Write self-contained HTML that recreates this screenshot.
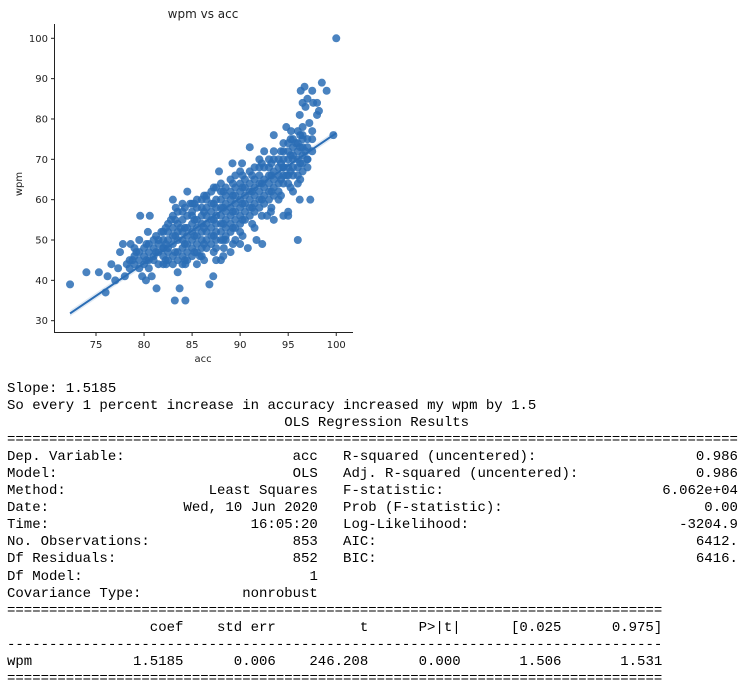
<!DOCTYPE html>
<html><head><meta charset="utf-8"><style>
body{margin:0;background:#fff;width:751px;height:683px;overflow:hidden;position:relative;font-family:"Liberation Mono",monospace;}
#plot{position:absolute;left:0;top:0}
#out{position:absolute;left:7px;top:381px;font-size:14px;line-height:17.05px;color:#000;white-space:pre}
.r{display:flex;height:17.05px}
.c37{width:37ch;display:flex;justify-content:space-between}
.g{width:3ch}
.c48{width:47ch;display:flex;justify-content:space-between}
.cell{text-align:right;display:inline-block}
</style></head><body>
<svg id="plot" width="360" height="372" xmlns="http://www.w3.org/2000/svg" font-family="DejaVu Sans, Liberation Sans, sans-serif">
<text x="203" y="18" font-size="12" text-anchor="middle" fill="#222">wpm vs acc</text>
<g id="marks"></g>
<g id="axes"></g>
<text x="203" y="362" font-size="10" text-anchor="middle" fill="#222">acc</text>
<text transform="translate(22,184) rotate(-90)" font-size="10" text-anchor="middle" fill="#222">wpm</text>
</svg>
<div id="out"><div>Slope: 1.5185</div><div>So every 1 percent increase in accuracy increased my wpm by 1.5</div><div>                                 OLS Regression Results</div><div>=======================================================================================</div><div class="r"><span class="c37"><span>Dep. Variable:</span><span>acc</span></span><span class="g"></span><span class="c48"><span>R-squared (uncentered):</span><span>0.986</span></span></div><div class="r"><span class="c37"><span>Model:</span><span>OLS</span></span><span class="g"></span><span class="c48"><span>Adj. R-squared (uncentered):</span><span>0.986</span></span></div><div class="r"><span class="c37"><span>Method:</span><span>Least Squares</span></span><span class="g"></span><span class="c48"><span>F-statistic:</span><span>6.062e+04</span></span></div><div class="r"><span class="c37"><span>Date:</span><span>Wed, 10 Jun 2020</span></span><span class="g"></span><span class="c48"><span>Prob (F-statistic):</span><span>0.00</span></span></div><div class="r"><span class="c37"><span>Time:</span><span>16:05:20</span></span><span class="g"></span><span class="c48"><span>Log-Likelihood:</span><span>-3204.9</span></span></div><div class="r"><span class="c37"><span>No. Observations:</span><span>853</span></span><span class="g"></span><span class="c48"><span>AIC:</span><span>6412.</span></span></div><div class="r"><span class="c37"><span>Df Residuals:</span><span>852</span></span><span class="g"></span><span class="c48"><span>BIC:</span><span>6416.</span></span></div><div class="r"><span class="c37"><span>Df Model:</span><span>1</span></span></div><div class="r"><span class="c37"><span>Covariance Type:</span><span>nonrobust</span></span></div><div>==============================================================================</div><div class="r"><span class="cell" style="width:10ch"></span><span class="cell" style="width:11ch">coef</span><span class="cell" style="width:11ch">std err</span><span class="cell" style="width:11ch">t</span><span class="cell" style="width:11ch">P&gt;|t|</span><span class="cell" style="width:12ch">[0.025</span><span class="cell" style="width:12ch">0.975]</span></div><div>------------------------------------------------------------------------------</div><div class="r"><span class="cell" style="width:10ch;text-align:left">wpm</span><span class="cell" style="width:11ch">1.5185</span><span class="cell" style="width:11ch">0.006</span><span class="cell" style="width:11ch">246.208</span><span class="cell" style="width:11ch">0.000</span><span class="cell" style="width:12ch">1.506</span><span class="cell" style="width:12ch">1.531</span></div><div>==============================================================================</div></div>
<script>
const xTicks=[75,80,85,90,95,100];
const yTicks=[30,40,50,60,70,80,90,100];
const outlierAcc=[72.3,74,75.3,76,76.2,76.6,77,77.3,77.5,77.8,78,78.2,78.6,78.8,79.2,79.5,79.6,79.8,80.2,80.4,80.6,80.5,80.8,81,81.3,81.5,81.8,82,82.3,82.5,82.8,83,83.2,83.3,83.5,83.7,83.8,84,84.3,84.5,84.3,84.8,85,85.5,85.8,86.5,86.8,87.2,87.5,87.8,88,88.3,88.5,89,89.2,89.5,90,90.2,90.8,91,91.5,91.7,92,92.3,92.5,92.8,93.2,93.5,93.5,94,94.5,94.8,95,95,95.3,95.5,96,96,96.2,96.3,96.5,96.7,96.8,97,97.2,97.3,97.5,97.6,98,98.2,98.5,99,99.7,100,96.2,96.5,97.5,98,96.8,97,95.8,95.5,94.8,94.5];
const outlierWpm=[39,42,42,37,41,44,40,43,47,49,41,44,49,45,47,50,56,41,40,52,56,43,41,45,38,50,52,48,44,47,55,60,35,58,42,38,53,59,35,62,44,59,56,44,46,60,39,41,45,67,45,48,50,47,69,50,49,69,48,73,53,50,70,49,72,56,57,76,55,60,56,78,57,56,77,62,50,64,60,87,84,88,83,85,79,60,87,84,81,82,89,87,76,100,81,75,77,84,72,70,74,70,66,68];
const denseAcc=[78.5,79,79.5,80,80.5,81,81.5,82,82.5,83,83.5,84,84.5,85,85.5,86,86.5,87,87.5,88,88.5,89,89.5,90,90.5,91,91.5,92,92.5,93,93.5,94,94.5,95,95.5,96,96.5,97,97.5,80.25,81.25,82.25,83.25,84.25,85.25,86.25,87.25,88.25,89.25,90.25,91.25,92.25,93.25,94.25,95.25,96.25];
const denseWpm=[[43,45],[44,46,48],[43,45,47],[44,46,48],[45,47,49],[46,48,50],[44,47,49],[44,46,48,50,52],[45,48,50,52,54],[44,46,49,51,53,56],[45,47,50,52,54,57],[44,46,48,50,52,55,57],[45,47,49,51,53,56],[46,48,50,52,54,57,59],[47,49,51,53,55,58,60],[46,48,50,52,54,56,58,60],[48,50,52,54,56,58,61],[49,51,53,55,57,59,62],[48,50,52,54,56,58,60,63],[50,52,54,56,58,60,62,64],[51,53,55,57,59,61,63],[52,54,56,58,60,62,65],[53,55,57,59,61,63,66],[52,54,56,58,60,62,64,67],[55,57,59,61,63,65],[56,58,60,62,64,67],[57,59,61,63,65,68],[58,60,62,64,66,68],[59,61,63,65,68],[60,62,64,66,68,70],[61,63,65,67,70,72],[62,64,66,68,70],[64,66,68,70,72,74],[64,66,68,70,72,74],[66,68,71,73,75],[66,68,70,72,74,77],[67,69,71,73,76,78],[68,70,73,75],[72,75],[45,49],[47,51],[45,49,53],[47,51,55],[45,49,53,58],[47,51,55,59],[45,49,53,57,61],[47,51,55,59,63],[46,50,54,58,62],[49,53,57,61,64],[51,55,59,63,66],[54,58,62,66],[56,60,64,69],[58,62,66,69],[61,65,69,72],[63,67,71,75],[65,69,73,76]];
const fitX=[72.3,100];
const fitY=[31.8,76.5];

const X=v=>96+(v-75)*9.61;
const Y=v=>38.3+(100-v)*4.034;
const NS="http://www.w3.org/2000/svg";
const marks=document.getElementById('marks');
const axes=document.getElementById('axes');
function mk(tag,attrs,parent){const e=document.createElementNS(NS,tag);for(const k in attrs)e.setAttribute(k,attrs[k]);parent.appendChild(e);return e;}
function dot(a,w){
  const c=mk('circle',{cx:X(a),cy:Y(w),r:4,fill:'#2a6db5','fill-opacity':0.85},marks);
  
  
}
denseAcc.forEach((a,i)=>denseWpm[i].forEach(w=>dot(a,w)));
outlierAcc.forEach((a,i)=>dot(a,outlierWpm[i]));
const band=mk('polygon',{points:`${X(fitX[0])},${Y(fitY[0])-3} ${X(fitX[1])},${Y(fitY[1])-3} ${X(fitX[1])},${Y(fitY[1])+3} ${X(fitX[0])},${Y(fitY[0])+3}`,fill:'#2a6db5','fill-opacity':0.15},marks);


const ln=mk('line',{x1:X(fitX[0]),y1:Y(fitY[0]),x2:X(fitX[1]),y2:Y(fitY[1]),stroke:'#2a6db5','stroke-width':2},marks);


const sp1=mk('line',{x1:54.5,y1:24,x2:54.5,y2:332.5,stroke:'#222','stroke-width':1},axes);


const sp2=mk('line',{x1:54,y1:332.5,x2:353,y2:332.5,stroke:'#222','stroke-width':1},axes);


xTicks.forEach(t=>{
  mk('line',{x1:X(t),y1:332.5,x2:X(t),y2:336,stroke:'#222'},axes);
  const tx=mk('text',{x:X(t),y:348,'font-size':10,'text-anchor':'middle',fill:'#222'},axes);
  tx.textContent=t;
  
  
});
yTicks.forEach(t=>{
  mk('line',{x1:51,y1:Y(t),x2:54.5,y2:Y(t),stroke:'#222'},axes);
  const tx=mk('text',{x:48,y:Y(t)+3.5,'font-size':10,'text-anchor':'end',fill:'#222'},axes);
  tx.textContent=t;
  
  
});
</script>
</body></html>
